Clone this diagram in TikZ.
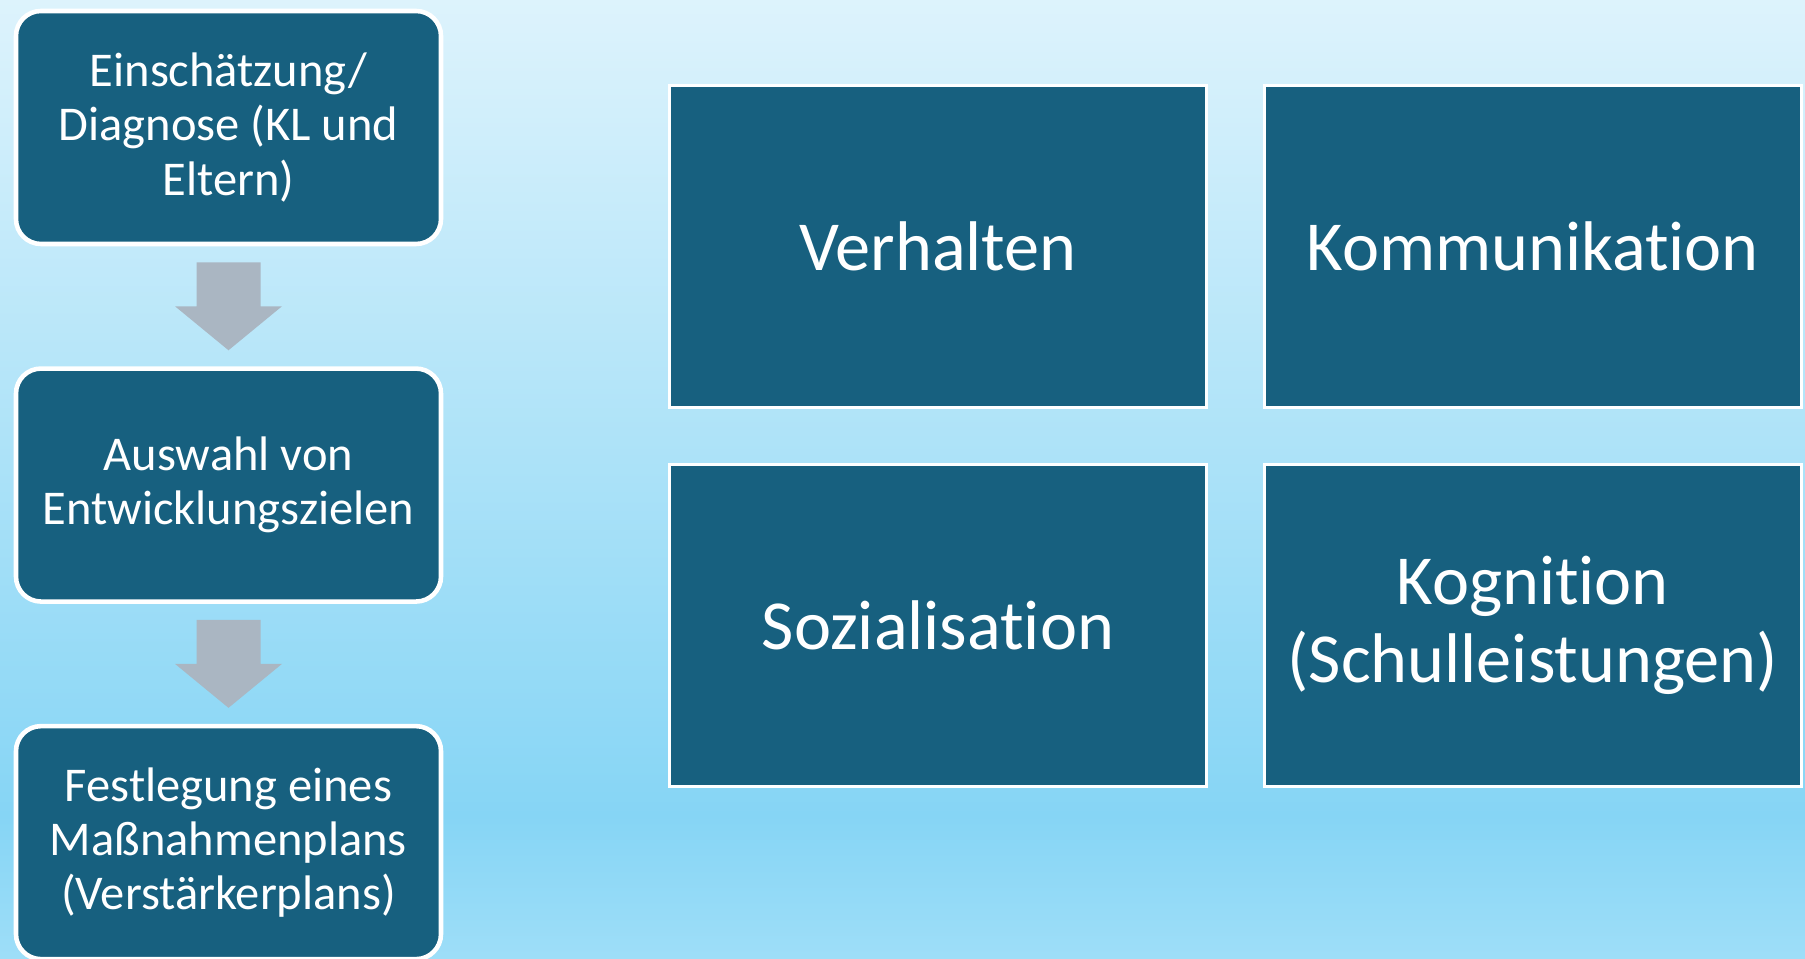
\documentclass[tikz,border=0pt]{standalone}
\usepackage{fontspec}
\setmainfont[Ligatures=NoCommon]{Carlito}
\usepackage{tikz}
\usetikzlibrary{positioning, calc}
\definecolor{BoxBlue}{HTML}{17607F}
\definecolor{ArrowGray}{HTML}{AAB6C2}
\definecolor{SkyTop}{HTML}{DDF3FC}
\definecolor{SkyDeep}{HTML}{86D5F5}
\definecolor{SkyBottom}{HTML}{9EDEF8}
\pgfdeclareverticalshading{skyfade}{100bp}{color(0bp)=(SkyBottom); color(25bp)=(SkyBottom);
  color(32.5bp)=(SkyDeep); color(75bp)=(SkyTop); color(100bp)=(SkyTop)}
\newcommand{\downblock}[1]{%
  \fill[ArrowGray] ($(#1)+(-0.32,0.44)$) -- ++(0.64,0) -- ++(0,-0.44) -- ++(0.215,0)
    -- ++(-0.535,-0.44) -- ++(-0.535,0.44) -- ++(0.215,0) -- cycle;}

\begin{document}
\begin{tikzpicture}[
    stepbox/.style={draw=white,line width=1.3pt,fill=BoxBlue,rounded corners=0.25cm,
        minimum width=4.25cm,minimum height=2.33cm,align=center,text=white,
        font=\fontsize{13.8}{15.4}\selectfont},
    areabox/.style={draw=white,line width=0.8pt,fill=BoxBlue,
        minimum width=5.37cm,minimum height=3.22cm,align=center,text=white,
        font=\fontsize{20}{22}\selectfont},
    node distance=1.2cm
]
    % Background
    \fill[shading=skyfade] (0,0) rectangle (18.05,9.59);
    \useasboundingbox (0,0) rectangle (18.05,9.59);

    % Steps on the left
    \node[stepbox] (diag) at (2.285,8.315) {Einschätzung/\\Diagnose (KL und\\Eltern)};
    \node[stepbox,below=of diag] (ziel) {Auswahl von\\Entwicklungszielen};
    \node[stepbox,below=of ziel] (plan) {Festlegung eines\\Maßnahmenplans\\(Verstärkerplans)};

    % Block arrows between steps
    \coordinate (a1) at ($(diag.south)!0.5!(ziel.north)$);
    \coordinate (a2) at ($(ziel.south)!0.5!(plan.north)$);
    \downblock{a1}
    \downblock{a2}

    % Development areas
    \node[areabox] (verhalten) at (9.38,7.125) {Verhalten};
    \node[areabox,right=0.55cm of verhalten] (komm) {Kommunikation};
    \node[areabox,below=0.54cm of verhalten] (sozial) {Sozialisation};
    \node[areabox,right=0.55cm of sozial] (kogn) {Kognition\\(Schulleistungen)};
\end{tikzpicture}
\end{document}
